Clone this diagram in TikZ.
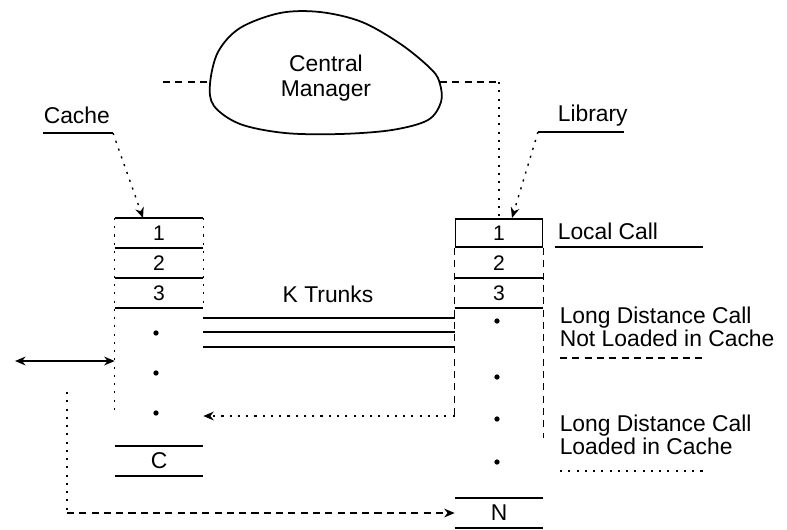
\documentclass[tikz,border=0pt]{standalone}
\usepackage{fontspec}
\setmainfont{Liberation Sans}
\usetikzlibrary{arrows.meta, positioning}

\begin{document}
\begin{tikzpicture}[
  x=0.02cm, y=-0.02cm,
  line width=0.9pt,
  lbl/.style={font=\fontsize{13pt}{11.5pt}\selectfont, align=left, inner sep=0pt},
  cell/.style={minimum width=1.74cm, minimum height=0.57cm, inner sep=0pt, font=\fontsize{12pt}{12pt}\selectfont},
  pt/.style={circle, fill, inner sep=0pt, minimum size=3pt},
  dotline/.style={line width=0.8pt, dash pattern=on 1.2pt off 3.5pt},
  dashline/.style={line width=0.8pt, dash pattern=on 4pt off 3pt},
  tip/.style={-{Stealth[length=6pt, width=5pt]}}
]
  \useasboundingbox (0,0) rectangle (787,529);

  % central manager
  \draw[line width=1pt] plot[smooth cycle, tension=0.55] coordinates {(210,84) (218,52) (240,28) (280,13) (320,12) (362,22) (402,45) (432,70) (440,84) (441,102) (428,120) (392,130) (340,134) (285,133) (240,124) (214,106)};
  \node[lbl, align=center, font=\fontsize{13pt}{14pt}\selectfont] (cm) at (326,78) {Central\\Manager};
  \coordinate (cmL) at (210,82);
  \coordinate (cmR) at (440,82);
  \coordinate (cmLend) at (163,82);

  % cache
  \node[cell] (c1) at (159,233) {1};
  \node[cell, below=0pt of c1] (c2) {2};
  \node[cell, below=0pt of c2] (c3) {3};
  \node[cell, font=\fontsize{13pt}{13pt}\selectfont] (cC) at (159,461) {C};
  \draw (c1.north west) -- (c1.north east);
  \foreach \n in {c1,c2,c3}
    \draw (\n.south west) -- (\n.south east);
  \draw (cC.north west) -- (cC.north east) (cC.south west) -- (cC.south east);
  \foreach \y [count=\i] in {333,373,413}
    \node[pt] (cd\i) at (156,\y) {};
  \draw[dotline] (c1.north west) -- (c1.north west |- cd3);
  \draw[dotline] (c1.north east) -- (c3.south east);

  % library
  \node[cell, draw] (l1) at (499,233) {1};
  \node[cell, below=0pt of l1] (l2) {2};
  \node[cell, below=0pt of l2] (l3) {3};
  \node[cell, font=\fontsize{13pt}{13pt}\selectfont] (lN) at (499,513) {N};
  \foreach \n in {l2,l3}
    \draw (\n.south west) -- (\n.south east);
  \draw (lN.north west) -- (lN.north east) (lN.south west) -- (lN.south east);
  \foreach \y [count=\i] in {321,377,419,462}
    \node[pt] (ld\i) at (497,\y) {};
  \draw[dashline] (l2.north west) -- ++(0,170);
  \draw[dashline] (l2.north east) -- ++(0,190);

  % manager links
  \draw[dashline] (cmLend) -- (cmL);
  \draw[dashline] (cmR) -- (cmR -| l1.north);
  \draw[dotline] (cmR -| l1.north) -- (l1.north);

  % trunks
  \node[lbl, anchor=base] (kt) at (328,302) {K Trunks};
  \foreach \y in {318,332,347}
    \draw (c1.east |- 0,\y) -- (l1.west |- 0,\y);
  \draw[dotline, tip] (l1.west |- 0,416) -- (c1.east |- 0,416);

  \coordinate (far) at (15,361);
  \draw[{Stealth[length=6pt, width=5pt]}-{Stealth[length=6pt, width=5pt]}] (far) -- (c1.west |- far);

  \coordinate (lft) at (67,392);
  \draw[dotline] (lft) -- (lft |- lN.west);
  \draw[dashline, tip] (lft |- lN.west) -- (lN.west);

  % labels
  \node[lbl, anchor=base west] (cachelbl) at (43,123) {Cache};
  \coordinate (cu1) at (43,133);
  \coordinate (cu2) at (113,133);
  \draw (cu1) -- (cu2);
  \draw[dotline, tip] (cu2) -- ([xshift=-0.32cm]c1.north);

  \node[lbl, anchor=base west] (liblbl) at (557,121) {Library};
  \coordinate (lu1) at (538,132);
  \coordinate (lu2) at (624,132);
  \draw (lu1) -- (lu2);
  \draw[dotline, tip] (lu1) -- ([xshift=0.26cm]l1.north);

  \node[lbl, anchor=base west] (local) at (557,239) {Local Call};
  \draw (local.base west |- 0,247) ++(-2,0) -- ++(148,0);

  \node[lbl, anchor=west] (ldn) at (559,327) {Long Distance Call\\Not Loaded in Cache};
  \draw[dashline] (560,358) -- (705,358);

  \node[lbl, anchor=west] (ldl) at (559,435) {Long Distance Call\\Loaded in Cache};
  \draw[dotline] (560,471) -- (705,471);
\end{tikzpicture}
\end{document}
